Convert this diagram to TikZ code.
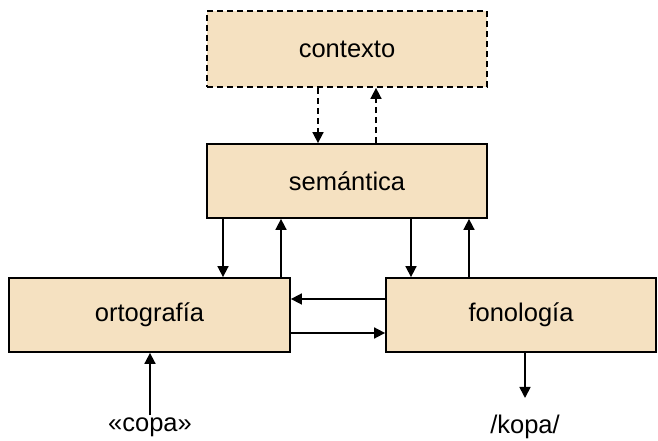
\documentclass[tikz,border=0pt]{standalone}
\usepackage{fontspec}
\setmainfont{Liberation Sans}
\usetikzlibrary{arrows.meta,calc}
\definecolor{boxfill}{RGB}{245,225,193}
\begin{document}
\begin{tikzpicture}[x=1pt,y=1pt,
  box/.style={draw=black,fill=boxfill,line width=1.8pt,minimum width=280pt,minimum height=74pt,inner sep=0pt,font=\fontsize{25.5}{30}\selectfont},
  arr/.style={line width=1.7pt,-{Triangle[length=11pt,width=11pt]}},
  dsh/.style={dash pattern=on 6pt off 4pt}]
\useasboundingbox (0,0) rectangle (658,441);
\node[box,dsh,minimum height=76pt] (ctx) at (347,392) {contexto};
\node[box] (sem) at (347,260) {semántica};
\node[box,minimum width=281pt] (orto) at (149.5,126) {ortografía};
\node[box,minimum width=270pt] (fono) at (521,126) {fonología};
\node[font=\fontsize{25.5}{30}\selectfont,inner sep=2pt] (copa) at (150,14) {«copa»};
\node[font=\fontsize{25.5}{30}\selectfont,inner sep=2pt] (kopa) at (525,14) {/kopa/};
\coordinate (d1) at (318,0);
\coordinate (d2) at (376,0);
\coordinate (v1) at (223,0);
\coordinate (v2) at (281,0);
\coordinate (v3) at (411,0);
\coordinate (v4) at (469,0);
\coordinate (h1) at (0,142);
\coordinate (h2) at (0,108);
\coordinate (cx) at (150,0);
\coordinate (kx) at (525,0);
\coordinate (kend) at (525,43);
\draw[arr,dsh] (d1 |- ctx.south) -- (d1 |- sem.north);
\draw[arr,dsh] (d2 |- sem.north) -- (d2 |- ctx.south);
\draw[arr] (v1 |- sem.south) -- (v1 |- orto.north);
\draw[arr] (v2 |- orto.north) -- (v2 |- sem.south);
\draw[arr] (v3 |- sem.south) -- (v3 |- fono.north);
\draw[arr] (v4 |- fono.north) -- (v4 |- sem.south);
\draw[arr] (fono.west |- h1) -- (orto.east |- h1);
\draw[arr] (orto.east |- h2) -- (fono.west |- h2);
\draw[arr] (cx |- copa.north) -- (cx |- orto.south);
\draw[arr] (kx |- fono.south) -- (kend);
\end{tikzpicture}
\end{document}
